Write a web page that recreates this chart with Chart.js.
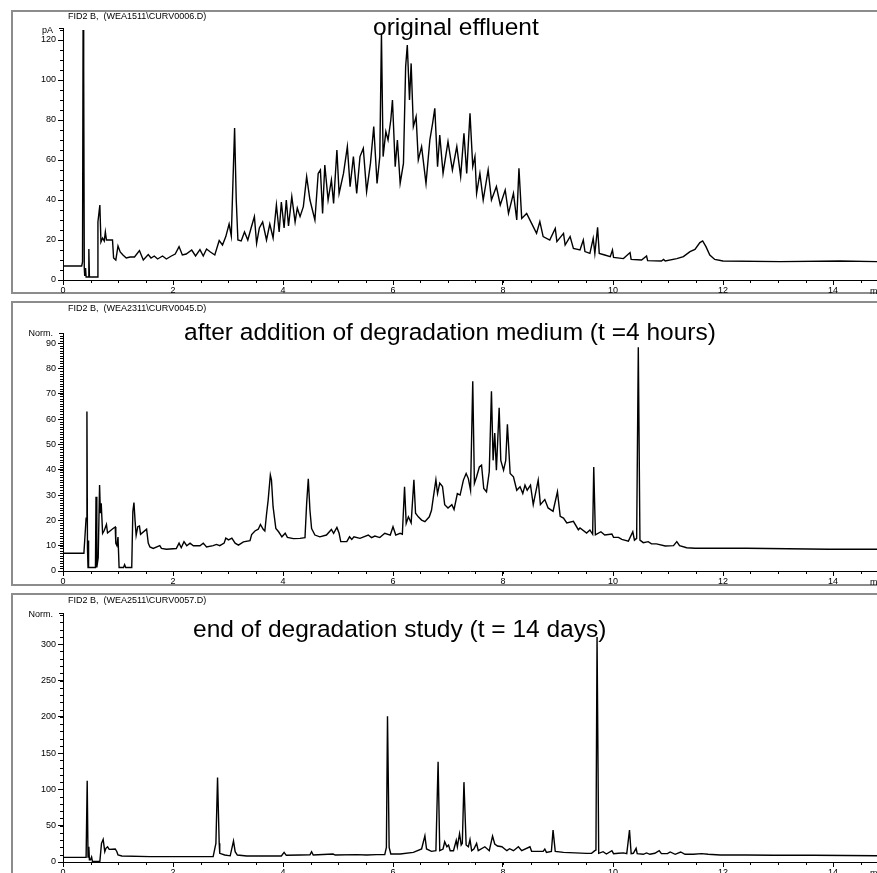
<!DOCTYPE html>
<html>
<head>
<meta charset="utf-8">
<script src="https://cdn.jsdelivr.net/npm/chart.js@4.4.1/dist/chart.umd.min.js"></script>
<style>
  body { margin: 0; background: #fff; overflow: hidden; width: 877px; height: 873px; position: relative; font-family: "Liberation Sans", Arial, sans-serif; }
  .frame { position: absolute; left: 11px; width: 900px; border: 2px solid #8c8c8c; box-sizing: border-box; }
  canvas { position: absolute; left: 0; }
  .txt { position: absolute; white-space: nowrap; line-height: 1; color: #000; }
  .head { font-size: 9px; }
  .title { font-size: 24.5px; }
  .unit { font-size: 9px; text-align: right; width: 50px; left: 3px; }
</style>
</head>
<body>

<div class="frame" style="top:10px;height:284px"></div>
<div class="frame" style="top:301px;height:285px"></div>
<div class="frame" style="top:593px;height:300px"></div>

<canvas id="chart1" width="877" height="294" style="top:0px"></canvas>
<canvas id="chart2" width="877" height="283" style="top:302px"></canvas>
<canvas id="chart3" width="877" height="280" style="top:593px"></canvas>

<div class="txt head" style="left:68px;top:12px">FID2 B,&nbsp; (WEA1511\CURV0006.D)</div>
<div class="txt head" style="left:68px;top:304px">FID2 B,&nbsp; (WEA2311\CURV0045.D)</div>
<div class="txt head" style="left:68px;top:595.5px">FID2 B,&nbsp; (WEA2511\CURV0057.D)</div>

<div class="txt title" style="left:373px;top:15px">original effluent</div>
<div class="txt title" style="left:184px;top:320px">after addition of degradation medium (t =4 hours)</div>
<div class="txt title" style="left:193px;top:617px">end of degradation study (t = 14 days)</div>

<div class="txt unit" style="top:26px">pA</div>
<div class="txt unit" style="top:328.5px">Norm.</div>
<div class="txt unit" style="top:609.5px">Norm.</div>

<div class="txt head" style="left:870px;top:287px">min</div>
<div class="txt head" style="left:870px;top:578px">min</div>
<div class="txt head" style="left:870px;top:869px">min</div>

<script>
// retention time (min) and detector signal
const effluentTime = [
  0, 0.34, 0.355, 0.365, 0.372, 0.38, 0.387, 0.395, 0.41, 0.42, 0.46, 0.47, 0.48, 0.62,
  0.635, 0.67, 0.69, 0.72, 0.75, 0.77, 0.79, 0.84, 0.9, 0.92, 0.96, 1.0, 1.04, 1.09,
  1.15, 1.22, 1.3, 1.39, 1.46, 1.55, 1.6, 1.66, 1.72, 1.81, 1.88, 1.97, 2.04, 2.11,
  2.17, 2.24, 2.34, 2.41, 2.49, 2.55, 2.61, 2.68, 2.76, 2.84, 2.9, 2.96, 3.02, 3.06,
  3.12, 3.15, 3.18, 3.24, 3.3, 3.36, 3.42, 3.48, 3.52, 3.57, 3.63, 3.7, 3.76, 3.82,
  3.88, 3.93, 3.97, 4.02, 4.06, 4.1, 4.16, 4.22, 4.26, 4.31, 4.37, 4.43, 4.49, 4.58,
  4.64, 4.68, 4.72, 4.76, 4.82, 4.88, 4.92, 4.98, 5.02, 5.1, 5.17, 5.22, 5.28, 5.34,
  5.4, 5.46, 5.52, 5.59, 5.65, 5.71, 5.76, 5.79, 5.82, 5.87, 5.91, 5.96, 5.99, 6.04,
  6.08, 6.13, 6.19, 6.23, 6.26, 6.3, 6.33, 6.37, 6.42, 6.46, 6.52, 6.6, 6.67, 6.72,
  6.76, 6.81, 6.85, 6.91, 7.0, 7.08, 7.16, 7.23, 7.29, 7.34, 7.4, 7.45, 7.49, 7.52,
  7.58, 7.64, 7.73, 7.79, 7.88, 7.95, 8.04, 8.1, 8.19, 8.25, 8.29, 8.34, 8.43, 8.52,
  8.61, 8.67, 8.73, 8.85, 8.95, 8.98, 9.1, 9.13, 9.22, 9.28, 9.4, 9.46, 9.49, 9.58,
  9.64, 9.67, 9.72, 9.75, 9.85, 9.95, 9.99, 10.01, 10.19, 10.31, 10.33, 10.52, 10.61, 10.63,
  10.88, 10.92, 10.95, 11.16, 11.28, 11.4, 11.49, 11.58, 11.63, 11.69, 11.76, 11.85, 12.0, 13.04,
  14.13, 14.8
];
const effluentSignal = [
  7, 7, 9, 125, 40, 106, 6, 2, 6, 1.5, 1.5, 15.5, 1.5, 1.5,
  29, 37.5, 19, 21, 19.5, 24, 20, 20, 20, 11, 10, 17, 14, 12.5,
  11, 11.5, 11.5, 14.7, 10, 12.7, 11, 12, 10.5, 12, 10.5, 12, 13, 16.7,
  12.5, 13, 15, 12, 15.2, 12, 15.5, 14, 12.5, 19.7, 17.5, 21.7, 28, 22,
  76, 40, 20, 19.5, 24, 20, 26, 31.7, 18.3, 26, 29, 20, 28, 21,
  37.5, 24, 39, 26, 40, 27, 41.7, 29, 36, 31.7, 36.7, 51.7, 40, 30,
  53.3, 55, 33.3, 57.5, 40, 50, 38.3, 65, 43.3, 53.3, 66.7, 46.7, 61.7, 43.3,
  61.7, 65.8, 44.2, 58.3, 76.7, 48.3, 61.7, 123.3, 61.7, 74.2, 70, 80, 90, 56.7,
  70, 48.3, 58.3, 106.7, 117.5, 90, 108.3, 76.7, 81.7, 60, 66.7, 48.3, 70, 78.3,
  85.8, 56.7, 72.5, 53.3, 69.2, 55, 66.7, 51.7, 73.3, 53.3, 83.3, 56.7, 61.7, 43.3,
  53.3, 40, 55, 40, 46.7, 37.5, 45, 33.3, 43.3, 30, 55.8, 30.8, 33.3, 28.3,
  23.3, 29.2, 21.7, 20, 25.8, 19.2, 23.3, 17.5, 21.7, 15.8, 15, 20, 14.2, 13.3,
  20.8, 13.3, 26.3, 13.3, 12.5, 11.7, 15, 11.3, 10.7, 13.7, 10.3, 10, 12, 9.7,
  9.5, 10.3, 9.5, 10.7, 11.7, 14.2, 15.3, 18.7, 19.5, 16.7, 12.5, 10.3, 9.5, 9.2,
  9.5, 9.2
];

const mediumTime = [
  0, 0.38, 0.42, 0.435, 0.445, 0.455, 0.46, 0.47, 0.59, 0.6, 0.615, 0.64, 0.665, 0.68,
  0.695, 0.72, 0.75, 0.79, 0.81, 0.91, 0.95, 0.96, 0.98, 1.0, 1.02, 1.1, 1.12, 1.14,
  1.25, 1.27, 1.29, 1.31, 1.33, 1.36, 1.39, 1.41, 1.52, 1.55, 1.58, 1.64, 1.76, 1.79,
  1.88, 2.06, 2.11, 2.15, 2.2, 2.25, 2.31, 2.37, 2.49, 2.55, 2.61, 2.73, 2.79, 2.85,
  2.93, 2.96, 3.01, 3.07, 3.13, 3.19, 3.28, 3.4, 3.43, 3.49, 3.55, 3.59, 3.64, 3.67,
  3.7, 3.73, 3.77, 3.79, 3.82, 3.87, 3.92, 3.98, 4.04, 4.08, 4.19, 4.31, 4.4, 4.43,
  4.46, 4.49, 4.52, 4.55, 4.58, 4.67, 4.79, 4.88, 4.92, 4.98, 5.02, 5.05, 5.16, 5.21,
  5.25, 5.29, 5.4, 5.55, 5.61, 5.67, 5.76, 5.85, 5.95, 6.0, 6.05, 6.13, 6.17, 6.21,
  6.24, 6.28, 6.33, 6.38, 6.41, 6.46, 6.52, 6.58, 6.66, 6.7, 6.73, 6.78, 6.81, 6.85,
  6.9, 6.94, 7.0, 7.07, 7.11, 7.17, 7.22, 7.28, 7.33, 7.37, 7.41, 7.45, 7.48, 7.52,
  7.57, 7.61, 7.65, 7.7, 7.75, 7.79, 7.82, 7.85, 7.88, 7.93, 7.96, 8.01, 8.05, 8.08,
  8.13, 8.19, 8.25, 8.31, 8.36, 8.4, 8.44, 8.5, 8.55, 8.64, 8.68, 8.76, 8.82, 8.91,
  8.99, 9.04, 9.1, 9.16, 9.28, 9.37, 9.4, 9.52, 9.58, 9.63, 9.65, 9.68, 9.78, 9.85,
  9.98, 10.01, 10.1, 10.16, 10.28, 10.36, 10.39, 10.43, 10.46, 10.49, 10.55, 10.64, 10.7, 10.79,
  10.95, 11.1, 11.16, 11.21, 11.34, 11.49, 12.43, 13.92, 14.8
];
const mediumSignal = [
  7, 7, 20.9, 63, 9, 1.4, 12, 1.4, 1.4, 29.3, 1.4, 5.3, 34, 22.8,
  26.7, 14.9, 16, 18.4, 15, 16.8, 17.4, 10.9, 10, 13.4, 1.4, 1.4, 2.5, 1.4,
  1.4, 23.5, 27, 20, 14.1, 17.5, 17.8, 14.5, 16.5, 11, 9.5, 8.9, 10, 8.9,
  8.6, 8.9, 11, 9.2, 11.6, 10, 11, 10, 10, 11, 9.5, 10, 10.5, 10,
  11, 13, 12.3, 13, 11, 10.2, 11.5, 12, 14.4, 15.8, 16.5, 18.4, 16.5, 15.8,
  22.3, 28, 37.9, 36, 25.3, 16.8, 15.5, 13.5, 14.9, 13.3, 12.8, 12.9, 13.2, 26.7,
  36.4, 24, 16.8, 15.5, 14.2, 13.5, 14.2, 16.4, 14.9, 17.2, 14.9, 11.6, 11.6, 13.5,
  12.5, 13.5, 12.9, 14.2, 13.2, 13.8, 13.2, 14.9, 14.2, 17.5, 14.2, 14.9, 14.5, 33.3,
  18.8, 21.4, 19, 36, 22.8, 21.4, 20.1, 19.5, 21.4, 24, 28.6, 36, 30.6, 34.7,
  33.4, 26.2, 24.9, 26.2, 24.3, 30.6, 30, 35.9, 38.5, 36.5, 31.9, 74.9, 34.6, 37.2,
  41.1, 41.8, 32.6, 31.3, 39.2, 71, 43.7, 54.5, 39.8, 64.5, 43.7, 39.8, 43.7, 57.9,
  38.5, 37.2, 31.9, 33.3, 30.6, 33.9, 31.9, 33.9, 26.2, 35.9, 26.2, 28.2, 24.9, 23.6,
  31.3, 21.6, 20.9, 19, 19.6, 16.3, 17, 15, 16.2, 14.5, 41.1, 14.3, 15.5, 14.2,
  14.6, 13.3, 13.3, 12.5, 11.8, 15.5, 12.2, 12.9, 88.4, 12.2, 11.2, 11.6, 10.7, 10.7,
  9.9, 10, 11.6, 10, 9.2, 9, 9, 8.6, 8.6
];

const studyEndTime = [
  0, 0.42, 0.44, 0.455, 0.47, 0.48, 0.5, 0.52, 0.535, 0.67, 0.7, 0.73, 0.76, 0.78,
  0.81, 0.84, 0.95, 0.98, 1.0, 1.07, 1.58, 2.73, 2.78, 2.81, 2.84, 2.85, 2.94, 3.04,
  3.1, 3.13, 3.17, 3.34, 3.97, 4.02, 4.06, 4.31, 4.49, 4.52, 4.55, 4.91, 4.95, 5.34,
  5.52, 5.7, 5.85, 5.88, 5.9, 5.93, 5.96, 6.13, 6.37, 6.52, 6.58, 6.61, 6.7, 6.78,
  6.82, 6.85, 6.91, 6.94, 6.98, 7.01, 7.04, 7.1, 7.15, 7.17, 7.21, 7.24, 7.26, 7.29,
  7.33, 7.37, 7.4, 7.43, 7.47, 7.52, 7.55, 7.67, 7.75, 7.81, 7.85, 7.9, 7.98, 8.07,
  8.12, 8.19, 8.28, 8.34, 8.49, 8.52, 8.73, 8.76, 8.79, 8.88, 8.91, 8.95, 9.1, 9.52,
  9.61, 9.67, 9.69, 9.71, 9.74, 9.82, 9.88, 9.98, 10.01, 10.1, 10.19, 10.25, 10.3, 10.33,
  10.37, 10.42, 10.44, 10.55, 10.61, 10.67, 10.76, 10.84, 10.88, 10.99, 11.04, 11.13, 11.23, 11.31,
  11.46, 11.61, 11.73, 11.95, 12.43, 12.92, 13.64, 14.8
];
const studyEndSignal = [
  6.4, 6.4, 112, 6.8, 21, 3, 3, 6.8, 0.9, 0.9, 25.7, 31.2, 14.2, 18.8,
  21, 17.4, 17.9, 14.2, 9.6, 8.3, 7.4, 7.4, 25.7, 116.5, 25.7, 11.9, 9.6, 8.5,
  28.9, 14.2, 9.6, 8.3, 8.3, 13.3, 9.2, 9.6, 9.8, 14.2, 9.6, 11, 9.6, 10.1,
  9.6, 10.1, 10.1, 20.2, 200.9, 20.2, 11, 11, 13.3, 17.9, 36.2, 17.9, 14.7, 15.6,
  138, 15.6, 17.9, 27.9, 21, 23.4, 15.6, 15.6, 29.8, 21, 39, 23.4, 25.7, 110,
  23.4, 21, 31, 15.6, 17.9, 25.7, 15.6, 21, 15.6, 35.8, 24.8, 22, 21, 15.6,
  18.3, 15.6, 21, 15.6, 21, 14.7, 14.7, 17.9, 13.3, 14.7, 44, 14.7, 13.3, 11.9,
  11.9, 15.6, 16.5, 310, 12, 14.2, 11, 15.6, 11.5, 12, 12.5, 11.5, 44, 11.5,
  12, 18.8, 11.5, 10.6, 12.5, 10.6, 12, 15.6, 11.5, 11.5, 13.8, 10.6, 13.8, 10.6,
  10.6, 11.5, 10.6, 9.6, 9.6, 9.2, 9.2, 8.7
];

// labelled ticks
const timeTicks = [0, 2, 4, 6, 8, 10, 12, 14];
const effluentTicks = [0, 20, 40, 60, 80, 100, 120];
const mediumTicks = [0, 10, 20, 30, 40, 50, 60, 70, 80, 90];
const studyEndTicks = [0, 50, 100, 150, 200, 250, 300];

// axis ranges: [max, minor step]
const timeAxis = [14.8, 0.5];
const effluentAxis = [126, 5];
const mediumAxis = [94, 1];
const studyEndAxis = [343, 10];

const minorTicks = {
  id: "minorTicks",
  afterDraw(chart, args, opts) {
    const ctx = chart.ctx;
    const x = chart.scales.x;
    const y = chart.scales.y;
    ctx.save();
    ctx.strokeStyle = "#000";
    ctx.lineWidth = 1;
    ctx.beginPath();
    for (let i = 0; i * opts.x <= x.max + 1e-9; i++) {
      const px = Math.round(x.getPixelForValue(i * opts.x)) + 0.5;
      ctx.moveTo(px, y.bottom);
      ctx.lineTo(px, y.bottom + 3);
    }
    for (let i = 0; i * opts.y <= y.max + 1e-9; i++) {
      const py = Math.round(y.getPixelForValue(i * opts.y)) + 0.5;
      ctx.moveTo(x.left - 3, py);
      ctx.lineTo(x.left, py);
    }
    const top = Math.round(y.getPixelForValue(y.max)) + 0.5;
    ctx.moveTo(x.left - 4, top);
    ctx.lineTo(x.left, top);
    ctx.stroke();
    ctx.restore();
  }
};

function dibujarCromatograma(id, tiempos, senal, ejeY, marcasY, padTop, xHeight) {
  const puntos = tiempos.map((t, i) => ({ x: t, y: senal[i] }));
  const fuente = { family: "'Liberation Sans', Arial, sans-serif", size: 9 };

  new Chart(document.getElementById(id), {
    type: "line",
    data: {
      datasets: [{
        data: puntos,
        borderColor: "#000",
        borderWidth: 1.4,
        pointRadius: 0,
        tension: 0,
        fill: false
      }]
    },
    options: {
      responsive: false,
      animation: false,
      devicePixelRatio: 1,
      layout: { padding: { top: padTop, left: 0, right: 0, bottom: 0 } },
      plugins: {
        legend: { display: false },
        tooltip: { enabled: false },
        minorTicks: { x: timeAxis[1], y: ejeY[1] }
      },
      scales: {
        x: {
          type: "linear",
          min: 0,
          max: timeAxis[0],
          afterBuildTicks: (s) => { s.ticks = timeTicks.map(v => ({ value: v })); },
          afterFit: (s) => { s.height = xHeight; },
          border: { display: true, color: "#000", width: 1 },
          grid: { drawOnChartArea: false, drawTicks: true, tickLength: 5, color: "#000" },
          ticks: { autoSkip: false, maxRotation: 0, padding: 0, color: "#000", font: fuente }
        },
        y: {
          type: "linear",
          min: 0,
          max: ejeY[0],
          afterBuildTicks: (s) => { s.ticks = marcasY.map(v => ({ value: v })); },
          afterFit: (s) => { s.width = 63; },
          border: { display: true, color: "#000", width: 1 },
          grid: { drawOnChartArea: false, drawTicks: true, tickLength: 5, color: "#000" },
          ticks: { autoSkip: false, padding: 2, color: "#000", font: fuente }
        }
      }
    },
    plugins: [minorTicks]
  });
}

document.addEventListener("DOMContentLoaded", () => {
  dibujarCromatograma("chart1", effluentTime, effluentSignal, effluentAxis, effluentTicks, 28, 14);
  dibujarCromatograma("chart2", mediumTime, mediumSignal, mediumAxis, mediumTicks, 31, 14);
  dibujarCromatograma("chart3", studyEndTime, studyEndSignal, studyEndAxis, studyEndTicks, 20, 11);
});
</script>
</body>
</html>
